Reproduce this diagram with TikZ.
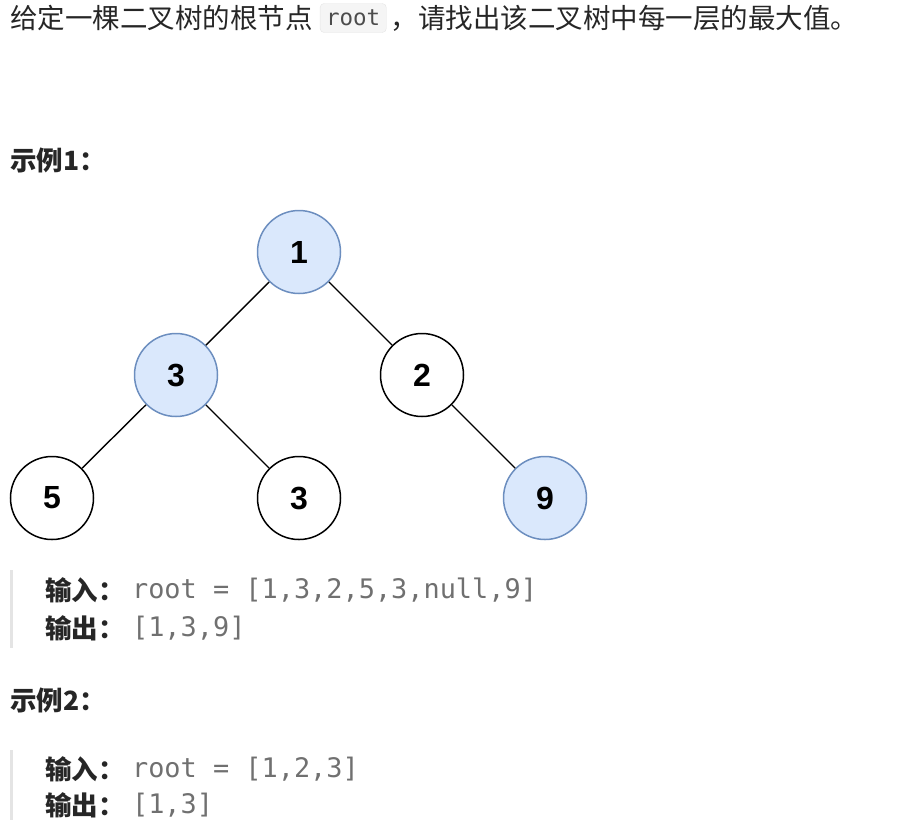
\documentclass[tikz,border=0pt]{standalone}
\usepackage{fontspec}
\setmainfont{Noto Sans CJK SC}
\newfontfamily\cjk{Noto Sans CJK SC}
\newfontfamily\codefont{DejaVu Sans Mono}
\newfontfamily\numfont{Liberation Sans}
\usetikzlibrary{positioning}
\definecolor{hlfill}{RGB}{218,232,252}
\definecolor{hlline}{RGB}{108,142,191}
\definecolor{codegray}{RGB}{112,112,112}
\definecolor{textdark}{RGB}{38,38,38}
\definecolor{barline}{RGB}{228,228,228}
\definecolor{codebg}{RGB}{245,245,245}

\begin{document}
\begin{tikzpicture}[x=1pt, y=-1pt,
    tnode/.style={circle, draw, line width=1.5pt, minimum size=83pt, inner sep=0pt, font=\numfont\bfseries\fontsize{32}{32}\selectfont},
    maxnode/.style={tnode, fill=hlfill, draw=hlline},
    edge/.style={line width=1.4pt},
    txt/.style={anchor=west, inner sep=0pt, text=textdark, font=\cjk\fontsize{27.5}{30}\selectfont},
    head/.style={txt, font=\cjk\bfseries\fontsize{26.5}{30}\selectfont},
    code/.style={anchor=west, inner sep=0pt, text=codegray, font=\codefont\fontsize{26.9}{30}\selectfont},
    inlinecode/.style={rounded corners=4pt, fill=codebg, draw=barline, inner xsep=6pt, minimum height=29pt, text=black!70, font=\codefont\fontsize{22.5}{24}\selectfont},
    bar/.style={draw=barline, line width=3pt},
    node distance=7pt
]
    \useasboundingbox (0,0) rectangle (909,820);

    % question text
    \node[txt] (intro) at (10,18) {给定一棵二叉树的根节点};
    \node[inlinecode, right=of intro] (rootkw) {root};
    \node[txt, right=4pt of rootkw] (introrest) {，请找出该二叉树中每一层的最大值。};

    % example 1
    \node[head] (ex1) at (10,160) {示例1：};

    \node[maxnode] (n1) at (299,252) {1};
    \node[maxnode] (n3) at (176,375) {3};
    \node[tnode] (n2) at (422,375) {2};
    \node[tnode] (n5) at (52,498) {5};
    \node[tnode] (n3b) at (299,498) {3};
    \node[maxnode] (n9) at (545,498) {9};

    \draw[edge] (n1) -- (n3);
    \draw[edge] (n1) -- (n2);
    \draw[edge] (n3) -- (n5);
    \draw[edge] (n3) -- (n3b);
    \draw[edge] (n2) -- (n9);

    \draw[bar] (11.5,570) -- (11.5,648);
    \node[head] (in1) at (45,590) {输入：};
    \node[code, right=7pt of in1] (in1code) {root = [1,3,2,5,3,null,9]};
    \node[head] (out1) at (45,628) {输出：};
    \node[code, right=7pt of out1] (out1code) {[1,3,9]};

    % example 2
    \node[head] (ex2) at (10,700) {示例2：};

    \draw[bar] (11.5,750) -- (11.5,820);
    \node[head] (in2) at (45,769) {输入：};
    \node[code, right=7pt of in2] (in2code) {root = [1,2,3]};
    \node[head] (out2) at (45,805) {输出：};
    \node[code, right=7pt of out2] (out2code) {[1,3]};
\end{tikzpicture}
\end{document}
